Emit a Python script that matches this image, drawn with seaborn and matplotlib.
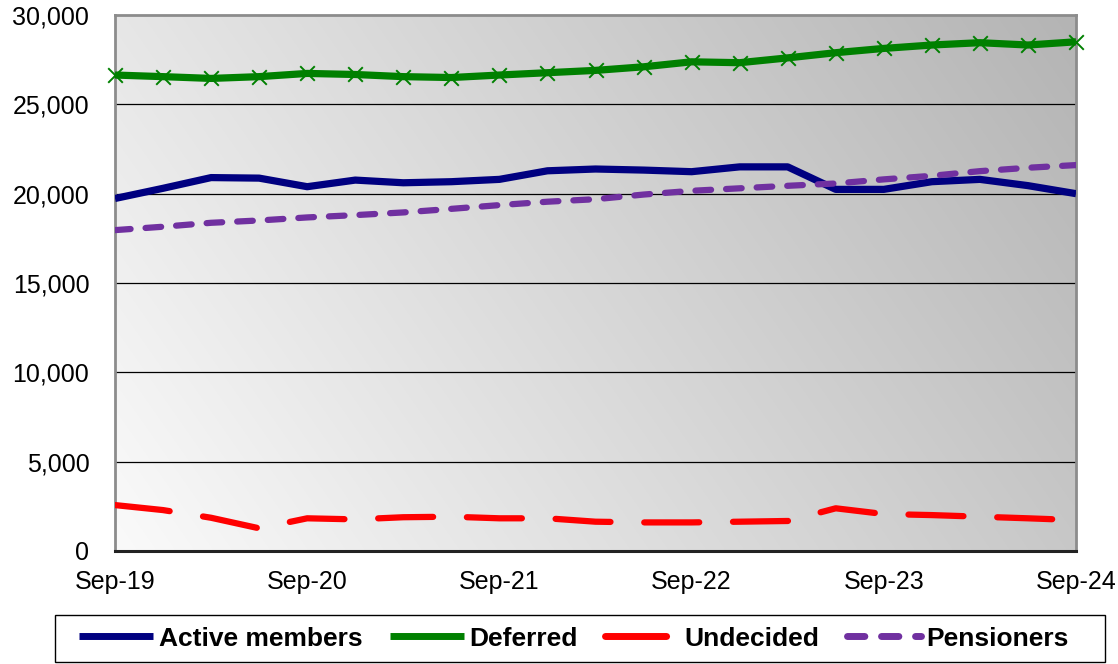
import numpy as np
import pandas as pd
import matplotlib
matplotlib.use("Agg")
import matplotlib.pyplot as plt
from matplotlib.patches import Rectangle
import seaborn as sns

quarters = ["Sep-19", "Dec-19", "Mar-20", "Jun-20", "Sep-20", "Dec-20", "Mar-21", "Jun-21",
            "Sep-21", "Dec-21", "Mar-22", "Jun-22", "Sep-22", "Dec-22", "Mar-23", "Jun-23",
            "Sep-23", "Dec-23", "Mar-24", "Jun-24", "Sep-24"]
active = [19730, 20300, 20900, 20870, 20390, 20760, 20610, 20670, 20800, 21280, 21380,
          21320, 21230, 21500, 21500, 20240, 20240, 20670, 20800, 20450, 20000]
deferred = [26640, 26550, 26450, 26550, 26730, 26670, 26550, 26500, 26640, 26770, 26900,
            27100, 27380, 27330, 27600, 27890, 28130, 28320, 28450, 28320, 28500]
undecided = [2570, 2290, 1860, 1270, 1830, 1770, 1890, 1920, 1830, 1830, 1640,
             1600, 1600, 1640, 1680, 2390, 2070, 2010, 1920, 1830, 1730]
pensioners = [17960, 18150, 18370, 18500, 18670, 18800, 18950, 19150, 19360, 19550, 19690,
              19950, 20160, 20300, 20440, 20570, 20800, 21000, 21260, 21450, 21600]
tick_labels = ["Sep-19", "Sep-20", "Sep-21", "Sep-22", "Sep-23", "Sep-24"]
series_names = ["Active members", "Deferred", "Undecided", "Pensioners"]

df = pd.DataFrame({"idx": np.arange(len(quarters)), "quarter": quarters,
                   "Active members": active, "Deferred": deferred,
                   "Undecided": undecided, "Pensioners": pensioners})

sns.set_style("white")
plt.rcParams["font.family"] = ["Liberation Sans", "DejaVu Sans"]
plt.rcParams["text.color"] = "black"

W, H = 1118, 664
fig = plt.figure(figsize=(W / 100, H / 100), dpi=100)
ax = fig.add_axes([115 / W, 1 - 551 / H, (1076 - 115) / W, (551 - 15) / H])

# gradient background
nx, ny = 200, 120
u = np.linspace(0, 1, nx)[None, :]
v = np.linspace(0, 1, ny)[:, None]
t = 0.72 * u + 0.28 * v
g = (250 - 70 * t) / 255.0
img = np.dstack([g, g, g])
ax.imshow(img, extent=[0, 1, 0, 1], transform=ax.transAxes, origin="lower",
          aspect="auto", zorder=0, interpolation="bilinear")

# grid lines
for yv in [5000, 10000, 15000, 20000, 25000]:
    ax.axhline(yv, color="black", lw=0.9, zorder=1)

styles = {
    "Active members": dict(color="#000080", lw=5.2, dashes=None),
    "Deferred": dict(color="#008000", lw=5.2, dashes=None),
    "Undecided": dict(color="#FF0000", lw=4.5, dashes=(8.8, 5.4)),
    "Pensioners": dict(color="#7030A0", lw=4.5, dashes=(2.5, 2.4)),
}

handles = []
for name in series_names:
    st = styles[name]
    sns.lineplot(data=df, x="idx", y=name, ax=ax, color=st["color"], lw=st["lw"],
                 label=name, zorder=3, legend=False)
    ln = ax.lines[-1]
    ln.set_solid_capstyle("butt")
    if st["dashes"] is not None:
        ln.set_dashes(st["dashes"])
        ln.set_dash_capstyle("round")
    handles.append(ln)

# green x markers
sns.scatterplot(data=df, x="idx", y="Deferred", ax=ax, marker="x", s=110,
                color="#008000", linewidth=1.4, zorder=4, legend=False, clip_on=False)

ax.set_xlim(0, 20)
ax.set_ylim(0, 30000)
ax.set_xticks([0, 4, 8, 12, 16, 20])
ax.set_xticklabels(tick_labels)
ax.set_yticks(np.arange(0, 30001, 5000))
ax.set_yticklabels([f"{int(y):,}" for y in np.arange(0, 30001, 5000)])
ax.tick_params(axis="both", length=0, labelsize=18, colors="black")
ax.tick_params(axis="y", pad=18.5)
ax.tick_params(axis="x", pad=14)
ax.set_xlabel("")
ax.set_ylabel("")

for s in ["left", "top", "right"]:
    ax.spines[s].set_color("#8c8c8c")
    ax.spines[s].set_linewidth(2)
ax.spines["bottom"].set_color("#222222")
ax.spines["bottom"].set_linewidth(2.2)

# legend frame drawn separately
fig.patches.append(Rectangle((55 / W, 1 - 662 / H), 1050 / W, 47 / H, transform=fig.transFigure,
                             facecolor="white", edgecolor="black", lw=1.0, zorder=0))

leg = fig.legend(handles, series_names, loc="center", bbox_to_anchor=(574 / W, 1 - 638.5 / H),
                 ncol=4, frameon=False,
                 prop={"size": 19, "weight": "bold"}, handlelength=2.8,
                 handletextpad=0.2, columnspacing=1.05, borderpad=0.3)
for lh in leg.get_lines():
    lh.set_linewidth(5)
for tx in leg.get_texts():
    tx.set_color("black")

fig.savefig("out.png", dpi=100)
